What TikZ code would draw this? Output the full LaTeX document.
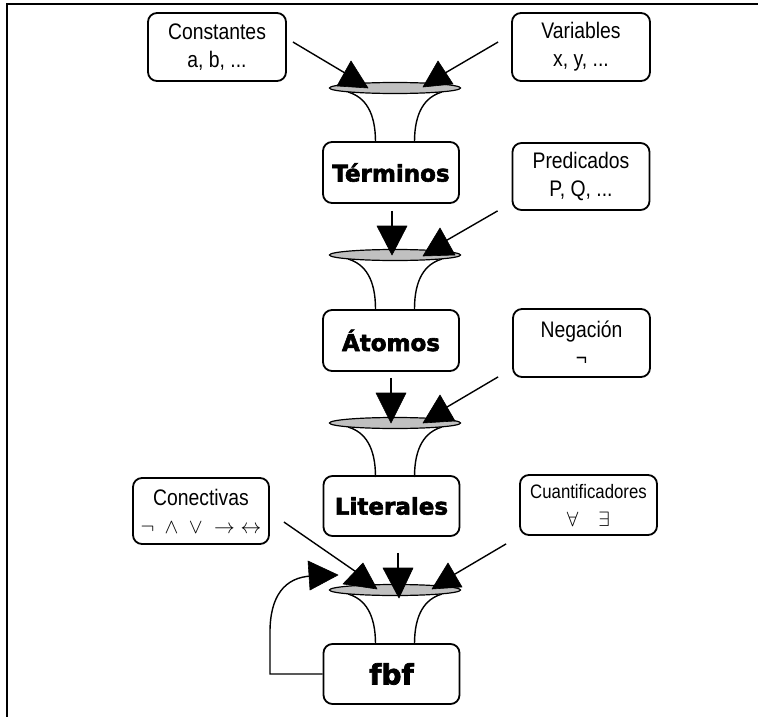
\documentclass[tikz,border=0pt]{standalone}
\usepackage{fontspec}
\setmainfont{Liberation Sans}
\newfontfamily\lblfont[FakeStretch=0.86]{Liberation Sans}
\newfontfamily\heavyfont[FakeBold=2.6]{DejaVu Sans}
\definecolor{mouthgray}{RGB}{192,192,192}
\begin{document}
\begin{tikzpicture}[x=1pt,y=-1pt,
  box/.style={draw, line width=1.8pt, rounded corners=9pt, inner sep=0pt, align=center},
  lab/.style={box, minimum width=137pt, minimum height=67pt, font=\lblfont\fontsize{22.5}{28}\selectfont},
  stage/.style={box, minimum width=136pt, minimum height=61pt, font=\heavyfont\bfseries\fontsize{23}{26}\selectfont},
  conn/.style={line width=1.4pt},
  tri/.style={fill=black, draw=black, line width=0.6pt, line join=round},
  funside/.style={line width=1.4pt},
  mouth/.style={draw, fill=mouthgray, line width=1.2pt},
  funnel/.pic={
    \draw[funside] (-47,4) .. controls (-30,9) and (-19.5,24) .. (-19.5,54);
    \draw[funside] (47,4) .. controls (30,9) and (19.5,24) .. (19.5,54);
    \draw[mouth] (0,0) ellipse [x radius=65.5, y radius=5.5];
  }]
\useasboundingbox (0,0) rectangle (758,717);
\draw[line width=2.4pt] (7,717) -- (7,4.2) -- (758,4.2);

% boxes
\node[lab, minimum width=138pt, minimum height=68pt] (cons) at (217,47) {Constantes\\a, b, ...};
\node[lab, minimum width=138pt, minimum height=68pt] (vars) at (581,47) {Variables\\x, y, ...};
\node[stage] (term) at (391,172.5) {Términos};
\node[lab] (pred) at (581,176.5) {Predicados\\P, Q, ...};
\node[stage] (atom) at (391,340.5) {Átomos};
\node[lab, minimum height=68pt] (neg) at (581.5,343) {Negación\\¬};
\node[stage, minimum height=60pt] (lit) at (391.5,506) {Literales};
\node[lab, minimum width=136pt, minimum height=66pt] (conec) at (201,511) {Conectivas\\{\fontsize{21}{28}\selectfont$\neg\;\wedge\;\vee\;\rightarrow\;\leftrightarrow$}};
\node[lab, minimum height=60pt, font=\lblfont\fontsize{19.5}{28}\selectfont] (cuant) at (588.5,505) {Cuantificadores\\{\fontsize{20}{28}\selectfont$\forall\quad\exists$}};
\node[stage, minimum height=60pt, font=\heavyfont\bfseries\fontsize{28}{30}\selectfont] (fbf) at (391.5,674) {fbf};

% funnels
\pic at (395,88) {funnel};
\pic at (395,255) {funnel};
\pic at (395,423) {funnel};
\pic at (395,590) {funnel};

% end points of connectors
\coordinate (e1) at (350,76);
\coordinate (e2) at (440,76);
\coordinate (e3) at (392,228);
\coordinate (e4) at (442,243);
\coordinate (e5) at (391,395);
\coordinate (e6) at (442,410);
\coordinate (e7) at (362,576);
\coordinate (e8) at (398,570);
\coordinate (e9) at (450,577);

% connectors
\draw[conn] ([shift={(6,-5)}]cons.east) -- (e1);
\draw[conn] ([shift={(-13,-5)}]vars.west) -- (e2);
\draw[conn] ([shift={(1,7)}]term.south) -- (e3);
\draw[conn] ([shift={(-14,0)}]pred.south west) -- (e4);
\draw[conn] ([shift={(0,6)}]atom.south) -- (e5);
\draw[conn] ([shift={(-14,-1)}]neg.south west) -- (e6);
\draw[conn] ([shift={(14,11)}]conec.east) -- (e7);
\draw[conn] ([shift={(6.5,16)}]lit.south) -- (e8);
\draw[conn] ([shift={(-13,8)}]cuant.south west) -- (e9);
\draw[conn] (fbf.west) -- (270,674) -- (270,632) .. controls (270,597) and (284,577) .. (312,576);

% arrowheads
\draw[tri] (351,61) -- (337,86) -- (368,88) -- cycle;
\draw[tri] (438,61) -- (423,87) -- (453,84) -- cycle;
\draw[tri] (377,226) -- (407,226) -- (392,255) -- cycle;
\draw[tri] (440,228) -- (423,256) -- (455,255) -- cycle;
\draw[tri] (376,393) -- (406,393) -- (391,423) -- cycle;
\draw[tri] (440,395) -- (423,423) -- (455,421) -- cycle;
\draw[tri] (363,563) -- (343,584) -- (377,589) -- cycle;
\draw[tri] (383,568) -- (413,568) -- (399,598) -- cycle;
\draw[tri] (448,563) -- (432,589) -- (462,587) -- cycle;
\draw[tri] (308,561) -- (310,590) -- (338,575) -- cycle;
\end{tikzpicture}
\end{document}
